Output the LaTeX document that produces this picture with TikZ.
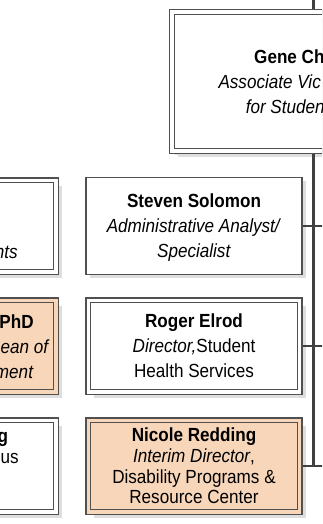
\documentclass[tikz,border=0pt]{standalone}
\usepackage{fontspec}
\setmainfont{Liberation Sans}[FakeStretch=0.9]
\usetikzlibrary{shadows}
\definecolor{linec}{HTML}{404040}
\definecolor{boxc}{HTML}{505050}
\definecolor{peach}{RGB}{248,214,186}
\definecolor{shadowc}{HTML}{DEDEDE}
\begin{document}
\begin{tikzpicture}[x=1pt,y=-1pt,
  txt/.style={font=\fontsize{19}{25}\selectfont, inner sep=0pt},
  box/.style={draw=boxc, line width=1.2pt, fill=white, inner sep=0pt,
    minimum width=216pt, minimum height=96.3pt, align=center,
    font=\fontsize{19}{25}\selectfont, outer sep=0.6pt, text depth=0pt,
    drop shadow={shadow xshift=3.5pt, shadow yshift=-3.5pt, fill=shadowc, opacity=1}},
  dbox/.style={box, double=white, double distance=3.4pt,
    minimum width=211.3pt, minimum height=91.6pt, outer sep=3pt,
    drop shadow={shadow xshift=6pt, shadow yshift=-6pt, fill=shadowc, opacity=1}},
  pbox/.style={dbox, fill=peach, double=peach},
  vline/.style={draw=linec, line width=3.2pt},
  stub/.style={draw=linec, line width=2.6pt}
]
\useasboundingbox (0,0) rectangle (322,524);
\clip (0,0) rectangle (322,524);

% boxes
\node[dbox, minimum width=283.3pt, minimum height=139.3pt] (gene) at (313.5,81.5) {};
\node[box] (steven) at (194,226) {\textbf{Steven Solomon}\\\textit{Administrative Analyst/}\\\textit{Specialist}};
\node[dbox] (roger) at (194,346) {\textbf{Roger Elrod}\\\textit{Director,}Student\\Health Services};
\node[pbox, font=\fontsize{19}{20.7}\selectfont] (nicole) at (194,466) {\textbf{Nicole Redding}\\\textit{Interim Director},\\Disability Programs \&\\Resource Center};
\node[dbox] (left1) at (-49.7,226) {};
\node[pbox] (left2) at (-49.7,346) {};
\node[dbox] (left3) at (-49.7,466) {};

% visible text fragments of clipped boxes
\node[txt, anchor=base west] (g1) at (254,63.5) {\textbf{Gene Ch}};
\node[txt, anchor=base west] (g2) at (218.3,88.5) {\textit{Associate Vic}};
\node[txt, anchor=base west] (g3) at (245.6,113.5) {\textit{for Studen}};
\node[txt, anchor=base east] (l1) at (17.8,258) {\textit{nts}};
\node[txt, anchor=base east] (l2a) at (33.8,328) {\textbf{PhD}};
\node[txt, anchor=base east] (l2b) at (49.8,353) {\textit{ean of}};
\node[txt, anchor=base east] (l2c) at (33.8,378) {\textit{ment}};
\node[txt, anchor=base east] (l3a) at (8.3,442) {\textbf{g}};
\node[txt, anchor=base east] (l3b) at (18.8,463) {us};

% connectors
\coordinate (upper) at (313.5,-10);
\coordinate (rr) at (335,0);
\coordinate (jn) at (gene.south |- nicole.east);
\draw[vline] (gene.north) -- (upper);
\draw[vline] (gene.south) -- (jn);
\draw[stub] (steven.east) -- (steven.east -| rr);
\draw[stub] (roger.east) -- (roger.east -| rr);
\draw[stub] (nicole.east) -- (nicole.east -| rr);
\end{tikzpicture}
\end{document}
